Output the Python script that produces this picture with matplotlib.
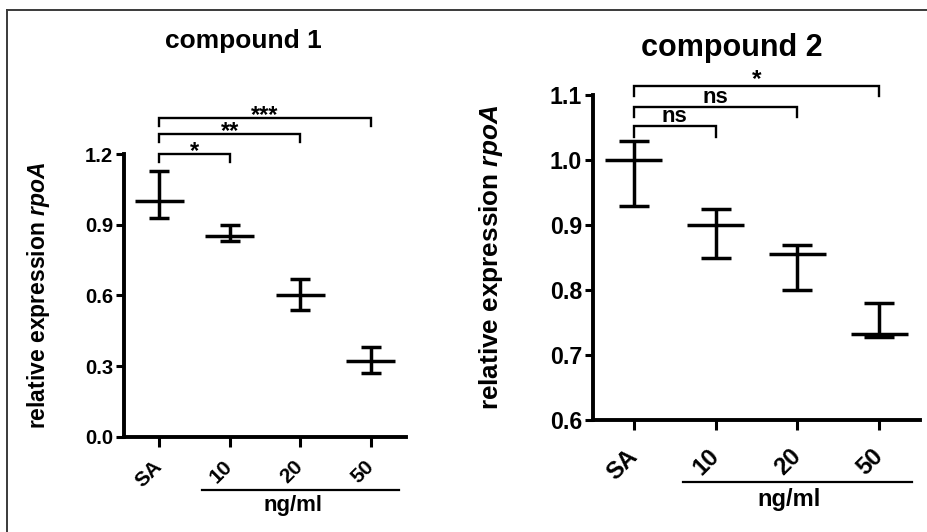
import matplotlib
matplotlib.use("Agg")
import matplotlib.pyplot as plt
from matplotlib.lines import Line2D
from matplotlib.transforms import ScaledTranslation

# Data
groups = ["SA", "10", "20", "50"]

c1_mean = [1.00, 0.85, 0.60, 0.32]
c1_upper = [1.13, 0.90, 0.67, 0.38]
c1_lower = [0.93, 0.83, 0.54, 0.27]
c1_brackets = [(0, 1, 1.200, "*"), (0, 2, 1.284, "**"), (0, 3, 1.353, "***")]

c2_mean = [1.00, 0.90, 0.855, 0.733]
c2_upper = [1.03, 0.925, 0.87, 0.78]
c2_lower = [0.93, 0.85, 0.80, 0.727]
c2_brackets = [(0, 1, 1.052, "ns"), (0, 2, 1.082, "ns"), (0, 3, 1.114, "*")]

plt.rcParams['font.family'] = ['Liberation Sans', 'DejaVu Sans']
plt.rcParams['font.weight'] = 'bold'
plt.rcParams['mathtext.fontset'] = 'custom'
plt.rcParams['mathtext.it'] = 'Liberation Sans:italic:bold'
plt.rcParams['mathtext.rm'] = 'Liberation Sans:bold'

fig = plt.figure(figsize=(9.27, 5.32), dpi=100)

# Figure frame: only top and left edges are visible
fig.add_artist(Line2D([7 / 927, 7 / 927], [0, 1 - 10 / 532], transform=fig.transFigure,
                      color="#3a3a3a", lw=1.4))
fig.add_artist(Line2D([7 / 927, 1], [1 - 10 / 532, 1 - 10 / 532], transform=fig.transFigure,
                      color="#3a3a3a", lw=1.4))


def draw_panel(ax, mean, upper, lower, brackets, ylim, yticks, fs, capsize,
               drop, bracket_style, title, title_xy, title_fs, ylab_x, ylab_fs,
               xlab_pad, line_y, text_y, unit_fs):
    x = list(range(len(groups)))
    yerr = [[m - lo for m, lo in zip(mean, lower)], [up - m for m, up in zip(mean, upper)]]
    ax.errorbar(x, mean, yerr=yerr, fmt="none", ecolor="black", elinewidth=2.5,
                capsize=capsize, capthick=2.5)
    ax.hlines(mean, [i - 0.35 for i in x], [i + 0.35 for i in x], color="black", lw=2.5)

    # Significance brackets
    for a, b, y, label in brackets:
        ax.plot([a, a, b, b], [y - drop, y, y, y - drop], color="black", lw=1.7,
                clip_on=False, solid_joinstyle="miter")
        dy, lfs = bracket_style[label]
        ax.annotate(label, ((a + b) / 2, y), xytext=(0, dy),
                    textcoords="offset points", ha="center", va="baseline",
                    fontsize=lfs, fontweight="bold", annotation_clip=False)

    ax.set_xlim(-0.5, 3.5)
    ax.set_ylim(*ylim)
    ax.set_yticks(yticks)
    ax.set_yticklabels([f"{t:.1f}" for t in yticks], fontsize=fs, fontweight="bold")
    ax.set_xticks(x)
    ax.set_xticklabels(groups, rotation=45, ha="right", va="center",
                       rotation_mode="anchor", fontsize=fs + 0.5, fontweight="bold")
    for lab in ax.get_xticklabels():
        lab.set_transform(lab.get_transform() + ScaledTranslation(3 / 72, 0, fig.dpi_scale_trans))

    for side in ["top", "right"]:
        ax.spines[side].set_visible(False)
    for side in ["left", "bottom"]:
        ax.spines[side].set_linewidth(2.8)
    ax.tick_params(axis="y", length=6, width=2.2, pad=2)
    ax.tick_params(axis="x", length=7.5, width=2.2, pad=xlab_pad)

    ax.set_ylabel(r"relative expression $\it{rpoA}$", fontsize=ylab_fs, fontweight="bold")
    ax.yaxis.set_label_coords(ylab_x, 0.5)

    # Concentration group marker under the x axis
    tr = ax.get_xaxis_transform()
    ax.plot([0.6, 3.4], [line_y, line_y], transform=tr, color="black", lw=1.6, clip_on=False)
    ax.text(1.9, text_y, "ng/ml", transform=tr, ha="center", va="center",
            fontsize=unit_fs, fontweight="bold")

    fig.text(title_xy[0] / 927, 1 - title_xy[1] / 532, title, ha="center", va="center",
             fontsize=title_fs, fontweight="bold")


ax1 = fig.add_axes([0.1338, 0.1791, 0.3042, 0.5314])
draw_panel(ax1, c1_mean, c1_upper, c1_lower, c1_brackets, (0, 1.2),
           [0.0, 0.3, 0.6, 0.9, 1.2], 14.6, 7.2, 0.035,
           {"*": (-3, 17), "**": (-3, 17), "***": (-3, 17)},
           "compound 1", (243, 41), 19, -0.255, 16.5, 12, -0.189, -0.245, 16)

ax2 = fig.add_axes([0.6397, 0.2105, 0.3528, 0.6109])
draw_panel(ax2, c2_mean, c2_upper, c2_lower, c2_brackets, (0.6, 1.1),
           [0.6, 0.7, 0.8, 0.9, 1.0, 1.1], 16.7, 11, 0.016,
           {"ns": (3, 16), "*": (0, 17.5)},
           "compound 2", (732, 48), 22, -0.27, 18.8, 16, -0.19, -0.246, 17)

fig.savefig("out.png", dpi=100)
